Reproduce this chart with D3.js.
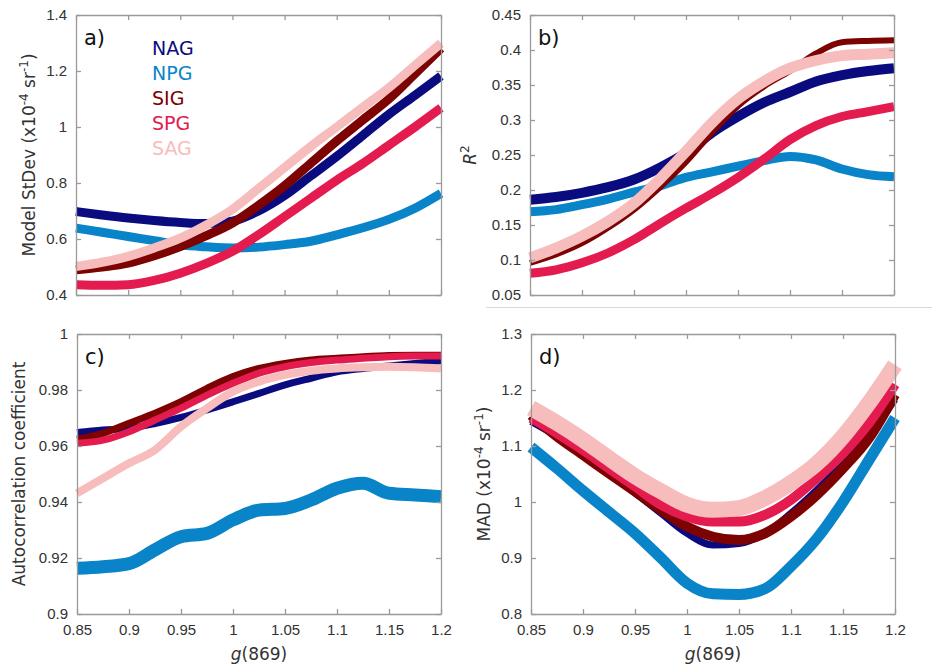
<!DOCTYPE html>
<html>
<head>
<meta charset="utf-8">
<script src="https://cdn.jsdelivr.net/npm/d3@7"></script>
<style>
  body { margin: 0; background: #fff; }
  svg { font-family: "DejaVu Sans", sans-serif; }
</style>
</head>
<body>
<svg id="chart" width="932" height="665"></svg>
<script>
const gVals = [0.85, 0.875, 0.9, 0.925, 0.95, 0.975, 1.0, 1.025, 1.05, 1.075, 1.1, 1.125, 1.15, 1.175, 1.2];
const xTicks = [0.85, 0.9, 0.95, 1, 1.05, 1.1, 1.15, 1.2];
const regions = ['NAG', 'NPG', 'SIG', 'SPG', 'SAG'];

// a) Model StDev (x10^-4 sr^-1)
const stdNAG = [0.698, 0.686, 0.675, 0.666, 0.659, 0.655, 0.664, 0.7, 0.755, 0.825, 0.895, 0.97, 1.045, 1.113, 1.182];
const stdNPG = [0.639, 0.624, 0.609, 0.594, 0.579, 0.572, 0.568, 0.571, 0.58, 0.592, 0.615, 0.64, 0.67, 0.71, 0.763];
const stdSIG = [0.49, 0.5, 0.514, 0.54, 0.573, 0.612, 0.657, 0.72, 0.79, 0.87, 0.95, 1.025, 1.1, 1.19, 1.281];
const stdSPG = [0.437, 0.435, 0.437, 0.452, 0.478, 0.513, 0.556, 0.615, 0.68, 0.745, 0.81, 0.87, 0.935, 1.0, 1.068];
const stdSAG = [0.502, 0.517, 0.538, 0.568, 0.603, 0.65, 0.706, 0.78, 0.855, 0.93, 1.0, 1.07, 1.14, 1.22, 1.299];

// b) R^2
const r2NAG = [0.186, 0.19, 0.196, 0.204, 0.215, 0.232, 0.253, 0.282, 0.305, 0.325, 0.34, 0.355, 0.364, 0.37, 0.374];
const r2NPG = [0.169, 0.172, 0.179, 0.187, 0.197, 0.206, 0.218, 0.226, 0.234, 0.242, 0.248, 0.243, 0.23, 0.222, 0.219];
const r2SIG = [0.096, 0.108, 0.124, 0.146, 0.172, 0.204, 0.24, 0.282, 0.32, 0.348, 0.37, 0.395, 0.411, 0.413, 0.414];
const r2SPG = [0.081, 0.086, 0.096, 0.11, 0.129, 0.152, 0.174, 0.195, 0.218, 0.244, 0.272, 0.292, 0.305, 0.312, 0.319];
const r2SAG = [0.103, 0.117, 0.134, 0.155, 0.181, 0.216, 0.255, 0.296, 0.33, 0.355, 0.374, 0.385, 0.392, 0.394, 0.396];

// c) Autocorrelation coefficient
const acNAG = [0.9648, 0.9657, 0.9663, 0.968, 0.9702, 0.9729, 0.9758, 0.9788, 0.9818, 0.9842, 0.9865, 0.9877, 0.9886, 0.9895, 0.9904];
const acNPG = [0.9163, 0.9169, 0.918, 0.9229, 0.9276, 0.9288, 0.9336, 0.9371, 0.9377, 0.9407, 0.9449, 0.9467, 0.9431, 0.9425, 0.9419];
const acSIG = [0.9624, 0.9645, 0.9681, 0.9717, 0.9758, 0.9806, 0.9848, 0.9877, 0.9895, 0.9907, 0.9913, 0.9919, 0.9923, 0.9924, 0.9924];
const acSPG = [0.961, 0.9621, 0.9651, 0.9693, 0.9735, 0.9782, 0.9824, 0.986, 0.9883, 0.9898, 0.9907, 0.9913, 0.9919, 0.9921, 0.9921];
const acSAG = [0.9431, 0.9485, 0.9538, 0.9586, 0.9669, 0.9735, 0.9794, 0.983, 0.9854, 0.9869, 0.9877, 0.9881, 0.9883, 0.9881, 0.9877];

// d) MAD (x10^-4 sr^-1)
const madNAG = [1.144, 1.117, 1.084, 1.051, 1.016, 0.98, 0.944, 0.923, 0.926, 0.944, 0.98, 1.022, 1.069, 1.12, 1.183];
const madNPG = [1.098, 1.06, 1.02, 0.982, 0.944, 0.9, 0.855, 0.836, 0.835, 0.845, 0.885, 0.935, 1.0, 1.075, 1.15];
const madSIG = [1.155, 1.117, 1.084, 1.051, 1.019, 0.986, 0.956, 0.938, 0.932, 0.944, 0.974, 1.013, 1.06, 1.114, 1.192];
const madSPG = [1.15, 1.123, 1.093, 1.06, 1.028, 0.995, 0.974, 0.965, 0.965, 0.977, 1.004, 1.043, 1.087, 1.141, 1.21];
const madSAG = [1.168, 1.141, 1.111, 1.078, 1.046, 1.019, 0.995, 0.986, 0.989, 1.007, 1.034, 1.069, 1.117, 1.177, 1.245];

const colors = {NAG: '#0b0b80', NPG: '#0a84c8', SIG: '#7d0202', SPG: '#e31b4f', SAG: '#f7bcbc'};

const svg = d3.select('#chart');

// thin separator line between the pasted panels
svg.append('line')
    .attr('x1', 486).attr('x2', 932)
    .attr('y1', 307.5).attr('y2', 307.5)
    .attr('stroke', '#d8d8d8');

const panels = [
    {tag: 'a)', box: [76, 15, 441, 295], domain: [0.4, 1.4], ticks: [0.4, 0.6, 0.8, 1, 1.2, 1.4],
     series: [stdNAG, stdNPG, stdSIG, stdSPG, stdSAG], widths: [9, 9, 9, 9, 9], label: 'std', xlab: false},
    {tag: 'b)', box: [530, 15, 894, 295], domain: [0.05, 0.45], ticks: [0.05, 0.1, 0.15, 0.2, 0.25, 0.3, 0.35, 0.4, 0.45],
     series: [r2NAG, r2NPG, r2SIG, r2SPG, r2SAG], widths: [10, 9, 6, 9, 11], label: 'r2', xlab: false},
    {tag: 'c)', box: [77, 334, 441, 614], domain: [0.9, 1], ticks: [0.9, 0.92, 0.94, 0.96, 0.98, 1],
     series: [acNAG, acNPG, acSIG, acSPG, acSAG], widths: [7, 13, 7, 7, 8], label: 'ac', xlab: true},
    {tag: 'd)', box: [531, 334, 895, 614], domain: [0.8, 1.3], ticks: [0.8, 0.9, 1, 1.1, 1.2, 1.3],
     series: [madNAG, madNPG, madSIG, madSPG, madSAG], widths: [7, 11, 10, 10, 16], label: 'mad', xlab: true}
];

const fmt = d => String(+d.toFixed(3));

panels.forEach(p => {
    const [x0, y0, x1, y1] = p.box;
    const x = d3.scaleLinear().domain([0.85, 1.2]).range([x0, x1]);
    const y = d3.scaleLinear().domain(p.domain).range([y1, y0]);
    const g = svg.append('g');

    // Données
    const line = d3.line()
        .x((d, i) => x(gVals[i]))
        .y(d => y(d))
        .curve(d3.curveMonotoneX);

    p.series.forEach((s, k) => {
        g.append('path')
            .datum(s)
            .attr('d', line)
            .attr('fill', 'none')
            .attr('stroke', colors[regions[k]])
            .attr('stroke-width', p.widths[k])
            .attr('stroke-linecap', 'butt')
            .attr('stroke-linejoin', 'round');
    });

    // Axes (boxed, ticks pointing in)
    const styleAxis = sel => {
        sel.select('.domain').attr('stroke', '#9a9a9a').attr('stroke-width', 1.3);
        sel.selectAll('.tick line').attr('stroke', '#9a9a9a').attr('stroke-width', 1.3);
        sel.selectAll('.tick text').attr('fill', '#333').attr('font-size', 15);
    };

    g.append('g')
        .attr('transform', `translate(0,${y1})`)
        .call(d3.axisBottom(x).tickValues(xTicks).tickSizeInner(-5).tickSizeOuter(0)
            .tickPadding(10).tickFormat(p.xlab ? fmt : ''))
        .call(styleAxis);
    g.append('g')
        .attr('transform', `translate(0,${y0})`)
        .call(d3.axisTop(x).tickValues(xTicks).tickSizeInner(-5).tickSizeOuter(0).tickFormat(''))
        .call(styleAxis);
    g.append('g')
        .attr('transform', `translate(${x0},0)`)
        .call(d3.axisLeft(y).tickValues(p.ticks).tickSizeInner(-5).tickSizeOuter(0)
            .tickPadding(9).tickFormat(fmt))
        .call(styleAxis);
    g.append('g')
        .attr('transform', `translate(${x1},0)`)
        .call(d3.axisRight(y).tickValues(p.ticks).tickSizeInner(-5).tickSizeOuter(0).tickFormat(''))
        .call(styleAxis);

    // lettre du panneau
    g.append('text')
        .attr('x', x0 + 8)
        .attr('y', y0 + 30)
        .attr('font-size', 21)
        .attr('fill', '#111')
        .text(p.tag);

    // x label
    if (p.xlab) {
        const t = g.append('text')
            .attr('x', (x0 + x1) / 2)
            .attr('y', y1 + 46)
            .attr('text-anchor', 'middle')
            .attr('font-size', 17)
            .attr('fill', '#333');
        t.append('tspan').attr('font-style', 'italic').text('g');
        t.append('tspan').text('(869)');
    }

    // y label
    let lx = x0 - 41;
    if (p.label === 'r2') lx = x0 - 54;
    if (p.label === 'ac') lx = x0 - 52;
    const yl = g.append('text')
        .attr('transform', `translate(${lx},${(y0 + y1) / 2}) rotate(-90)`)
        .attr('text-anchor', 'middle')
        .attr('font-size', 17)
        .attr('fill', '#333');
    if (p.label === 'std' || p.label === 'mad') {
        yl.append('tspan').text((p.label === 'std' ? 'Model StDev' : 'MAD') + ' (x10');
        yl.append('tspan').attr('dy', -7).attr('font-size', 12).text('-4');
        yl.append('tspan').attr('dy', 7).text(' sr');
        yl.append('tspan').attr('dy', -7).attr('font-size', 12).text('-1');
        yl.append('tspan').attr('dy', 7).text(')');
    } else if (p.label === 'r2') {
        yl.append('tspan').attr('font-style', 'italic').text('R');
        yl.append('tspan').attr('dy', -7).attr('font-size', 12).text('2');
    } else {
        yl.text('Autocorrelation coefficient');
    }
});

// Légende (panel a)
regions.forEach((r, i) => {
    svg.append('text')
        .attr('x', 152)
        .attr('y', 55 + i * 25)
        .attr('font-size', 19)
        .attr('fill', colors[r])
        .text(r);
});
</script>
</body>
</html>
